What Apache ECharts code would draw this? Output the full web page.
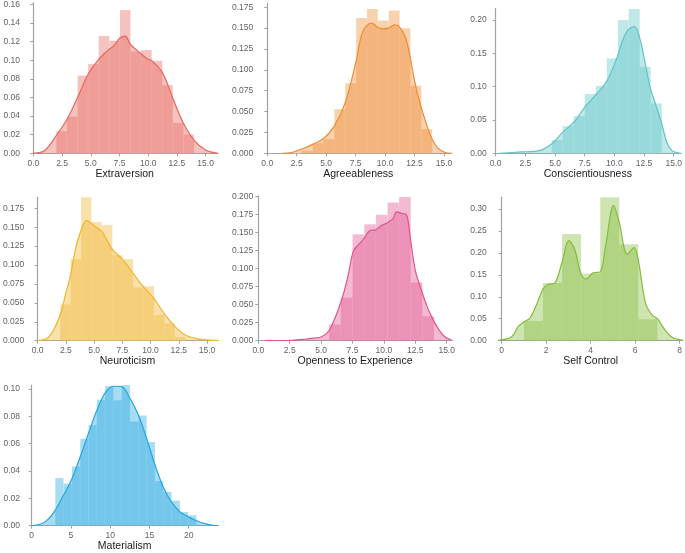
<!DOCTYPE html>
<html>
<head>
<meta charset="utf-8">
<script src="https://cdn.jsdelivr.net/npm/echarts@6/dist/echarts.min.js"></script>
<style>
html,body{margin:0;padding:0;background:#fff;}
#chart{width:685px;height:553px;}
</style>
</head>
<body>
<div id="chart"></div>
<script>
// ---------- DATA ----------
const titles = ["Extraversion","Agreeableness","Conscientiousness","Neuroticism","Openness to Experience","Self Control","Materialism"];

// histogram bin edges and densities
const extraversionEdges = [2,2.92,3.85,4.77,5.69,6.62,7.54,8.46,9.38,10.31,11.23,12.15,13.08,14];
const extraversionHist = [0.0238,0.0395,0.0836,0.096,0.126,0.121,0.154,0.1095,0.111,0.0996,0.0733,0.0327,0.0203];
const extraversionKdeX = [0,1,2.1,3,4,4.77,5.69,6.62,7,7.54,8,8.46,9.38,10,10.31,11.23,12.15,13.08,14,15,16.07];
const extraversionKdeY = [0,0.003,0.021,0.038,0.064,0.085,0.101,0.112,0.1156,0.124,0.126,0.117,0.107,0.101,0.0996,0.087,0.059,0.032,0.014,0.0036,0];

const agreeablenessEdges = [2,2.92,3.85,4.77,5.69,6.62,7.54,8.46,9.38,10.31,11.23,12.15,13.08,14];
const agreeablenessHist = [0,0.003,0.012,0.017,0.053,0.084,0.162,0.173,0.159,0.171,0.150,0.081,0.029];
const agreeablenessKdeX = [1.27,2.07,3.1,3.9,4.8,5.66,6.6,7.53,8.0,8.43,8.86,9.37,9.85,10.27,10.84,11.18,11.69,12.06,12.54,12.96,13.53,13.95,14.5,15.1,15.65];
const agreeablenessKdeY = [0,0.001,0.006,0.011,0.018,0.032,0.060,0.110,0.142,0.153,0.156,0.151,0.149,0.150,0.154,0.152,0.140,0.120,0.084,0.060,0.034,0.018,0.006,0.001,0];

const conscientiousnessEdges = [4.71,5.64,6.57,7.5,8.43,9.36,10.29,11.21,12.14,13.07,14];
const conscientiousnessHist = [0.02,0.041,0.056,0.089,0.1015,0.1425,0.20,0.2165,0.13,0.075];
const conscientiousnessKdeX = [0.3,2.15,3.26,3.95,4.78,5.69,6.63,7.54,8.43,9.34,10.25,10.7,11.19,11.69,12.1,12.57,13.0,13.5,13.95,14.45,14.86,15.6];
const conscientiousnessKdeY = [0,0.002,0.003,0.0055,0.015,0.0325,0.0475,0.070,0.0875,0.1075,0.145,0.17,0.186,0.19,0.175,0.1375,0.1,0.072,0.047,0.015,0.004,0];

const neuroticismEdges = [2,2.92,3.85,4.77,5.69,6.62,7.54,8.46,9.38,10.31,11.23,12.15,13.08];
const neuroticismHist = [0.048,0.108,0.1896,0.157,0.153,0.113,0.108,0.0705,0.072,0.034,0.023,0.005];
const neuroticismKdeX = [0,1,2,2.45,2.92,3.4,3.85,4.33,4.77,5,5.7,6.6,7.54,8.46,9.38,10.3,11.2,12.15,13.08,14,15,16];
const neuroticismKdeY = [0,0.005,0.034,0.060,0.087,0.124,0.146,0.159,0.155,0.152,0.144,0.121,0.107,0.089,0.071,0.056,0.036,0.019,0.0075,0.003,0.001,0];

const opennessEdges = [5.64,6.57,7.5,8.43,9.36,10.29,11.21,12.14,13.07,14];
const opennessHist = [0.0227,0.060,0.148,0.1616,0.175,0.192,0.1996,0.081,0.034];
const opennessKdeX = [0.53,2.65,3.7,4.38,5.04,5.7,6.63,7.16,7.56,7.96,8.43,8.89,9.34,9.81,10.27,10.74,11.0,11.4,11.8,12.07,12.5,12.99,13.45,13.87,14.32,14.85,15.38];
const opennessKdeY = [0,0.0005,0.002,0.0035,0.0055,0.016,0.0565,0.091,0.124,0.133,0.142,0.153,0.154,0.16,0.164,0.17,0.179,0.177,0.175,0.147,0.098,0.070,0.047,0.031,0.017,0.0055,0.001];

const selfControlEdges = [1,1.857,2.714,3.571,4.429,5.286,6.143,7];
const selfControlHist = [0.0448,0.1314,0.243,0.153,0.3266,0.2195,0.049];
const selfControlKdeX = [-0.15,0.45,0.74,1.0,1.26,1.56,1.86,2.08,2.38,2.72,3.02,3.27,3.57,3.79,4.09,4.43,4.68,5.03,5.28,5.65,5.95,6.14,6.47,6.77,7.02,7.29,7.66,8.15];
const selfControlKdeY = [0.001,0.009,0.032,0.043,0.051,0.081,0.118,0.128,0.131,0.18,0.228,0.21,0.151,0.14,0.154,0.157,0.218,0.3076,0.271,0.197,0.212,0.184,0.085,0.058,0.049,0.028,0.0076,0.001];

const materialismEdges = [3,4.06,5.12,6.18,7.24,8.29,9.35,10.41,11.47,12.53,13.59,14.65,15.71,16.76,17.82,18.88,19.94,21];
const materialismHist = [0.0348,0.0307,0.0433,0.0636,0.0736,0.0921,0.1021,0.0917,0.1029,0.0762,0.0805,0.0612,0.0326,0.0248,0.0183,0.010,0.0076];
const materialismKdeX = [0,1.06,1.9,2.97,4.03,5.1,6.16,7.2,8.28,9.34,10.4,11.46,12.53,13.59,14.65,15.7,16.77,17.83,18.9,19.96,21.0,22.1,23.1,23.8];
const materialismKdeY = [0,0.001,0.0036,0.011,0.022,0.034,0.050,0.067,0.084,0.097,0.102,0.1017,0.093,0.081,0.0636,0.0445,0.028,0.017,0.010,0.0064,0.0036,0.0014,0.0002,0];

// tick values
const xTicks15 = [0,2.5,5,7.5,10,12.5,15];
const xTicksSelfControl = [0,2,4,6,8];
const xTicksMaterialism = [0,5,10,15,20];
const yTicksExtraversion = [0,0.02,0.04,0.06,0.08,0.10,0.12,0.14,0.16];
const yTicksAgreeableness = [0,0.025,0.05,0.075,0.1,0.125,0.15,0.175];
const yTicksConscientiousness = [0,0.05,0.10,0.15,0.20];
const yTicksNeuroticism = [0,0.025,0.05,0.075,0.1,0.125,0.15,0.175];
const yTicksOpenness = [0,0.025,0.05,0.075,0.1,0.125,0.15,0.175,0.2];
const yTicksSelfControl = [0,0.05,0.10,0.15,0.20,0.25,0.30];
const yTicksMaterialism = [0,0.02,0.04,0.06,0.08,0.10];

// ---------- LAYOUT / STYLE ----------
const panels = [
  {edges:extraversionEdges, hist:extraversionHist, kx:extraversionKdeX, ky:extraversionKdeY, xt:xTicks15, xd:1, yt:yTicksExtraversion, yd:2,
   color:'#E8675C', xmin:-0.15, xmax:16.07, ymax:0.162, left:31.6, right:217.9, top:1.4, bottom:153.3, off:7.6},
  {edges:agreeablenessEdges, hist:agreeablenessHist, kx:agreeablenessKdeX, ky:agreeablenessKdeY, xt:xTicks15, xd:1, yt:yTicksAgreeableness, yd:3,
   color:'#EE8D33', xmin:-0.2, xmax:15.65, ymax:0.18, left:264.9, right:451.7, top:3.1, bottom:153.3, off:7.6},
  {edges:conscientiousnessEdges, hist:conscientiousnessHist, kx:conscientiousnessKdeX, ky:conscientiousnessKdeY, xt:xTicks15, xd:1, yt:yTicksConscientiousness, yd:2,
   color:'#5EC5C7', xmin:-0.1, xmax:15.63, ymax:0.217, left:494.5, right:684.4, top:8.7, bottom:153.3, off:3.8},
  {edges:neuroticismEdges, hist:neuroticismHist, kx:neuroticismKdeX, ky:neuroticismKdeY, xt:xTicks15, xd:1, yt:yTicksNeuroticism, yd:3,
   color:'#F1B52F', xmin:-0.09, xmax:16.0, ymax:0.1895, left:32.3, right:218.3, top:197.3, bottom:340.7, off:8.3},
  {edges:opennessEdges, hist:opennessHist, kx:opennessKdeX, ky:opennessKdeY, xt:xTicks15, xd:1, yt:yTicksOpenness, yd:3,
   color:'#E2558E', xmin:-0.08, xmax:15.48, ymax:0.201, left:257.3, right:452.7, top:196, bottom:340.7, off:0},
  {edges:selfControlEdges, hist:selfControlHist, kx:selfControlKdeX, ky:selfControlKdeY, xt:xTicksSelfControl, xd:0, yt:yTicksSelfControl, yd:2,
   color:'#84BC3C', xmin:-0.15, xmax:8.15, ymax:0.327, left:498.3, right:684.3, top:197.1, bottom:340.7, off:7.6},
  {edges:materialismEdges, hist:materialismHist, kx:materialismKdeX, ky:materialismKdeY, xt:xTicksMaterialism, xd:0, yt:yTicksMaterialism, yd:2,
   color:'#25A7DF', xmin:-0.09, xmax:23.77, ymax:0.1029, left:31.0, right:218.3, top:385, bottom:529, off:7}
];

function hexToRgba(hex, a){
  const n = parseInt(hex.slice(1),16);
  return 'rgba(' + ((n>>16)&255) + ',' + ((n>>8)&255) + ',' + (n&255) + ',' + a + ')';
}

const FONT = 'Liberation Sans, Arial, Helvetica, sans-serif';
const AXIS_COLOR = '#9ea3a8';
const LABEL_COLOR = '#5f6368';

const grid = [], xAxis = [], yAxis = [], series = [];
panels.forEach((p, i) => {
  grid.push({left:p.left, top:p.top, width:p.right-p.left, height:p.bottom-p.top, containLabel:false});
  xAxis.push({
    type:'value', gridIndex:i, min:p.xmin, max:p.xmax,
    name:titles[i], nameLocation:'middle', nameGap:15,
    nameTextStyle:{fontSize:10.5, color:'#1a1a1a', fontFamily:FONT},
    axisLine:{show:true, lineStyle:{color:AXIS_COLOR, width:1.2}},
    axisTick:{show:true, length:3, customValues:p.xt, lineStyle:{color:AXIS_COLOR, width:1}},
    axisLabel:{customValues:p.xt, fontSize:8.5, color:LABEL_COLOR, fontFamily:FONT, margin:5.5,
               formatter:(v)=>Number(v).toFixed(p.xd)},
    splitLine:{show:false}
  });
  yAxis.push({
    type:'value', gridIndex:i, min:0, max:p.ymax, offset:p.off,
    axisLine:{show:true, lineStyle:{color:AXIS_COLOR, width:1.2}},
    axisTick:{show:true, length:3, customValues:p.yt, lineStyle:{color:AXIS_COLOR, width:1}},
    axisLabel:{customValues:p.yt, fontSize:8.5, color:LABEL_COLOR, fontFamily:FONT, margin:4,
               formatter:(v)=>Number(v).toFixed(p.yd)},
    splitLine:{show:false}
  });
  const binData = p.hist.map((h, j) => [p.edges[j], p.edges[j+1], h]);
  const fill = hexToRgba(p.color, 0.4);
  series.push({
    type:'custom', xAxisIndex:i, yAxisIndex:i, silent:true,
    data:binData, encode:{x:[0,1], y:2},
    renderItem:function(params, api){
      const a = api.coord([api.value(0), api.value(2)]);
      const b = api.coord([api.value(1), 0]);
      return {type:'rect', shape:{x:a[0], y:a[1], width:b[0]-a[0], height:b[1]-a[1]},
              style:{fill:fill, stroke:'rgba(255,255,255,0.25)', lineWidth:0.6}};
    }
  });
  series.push({
    type:'line', xAxisIndex:i, yAxisIndex:i, silent:true,
    data:p.kx.map((x, j) => [x, p.ky[j]]),
    smooth:0.35, symbol:'none',
    lineStyle:{color:p.color, width:1.2},
    areaStyle:{color:p.color, opacity:0.4}
  });
});

const chart = echarts.init(document.getElementById('chart'), null, {renderer:'canvas'});
chart.setOption({animation:false, backgroundColor:'#fff', grid, xAxis, yAxis, series});
</script>
</body>
</html>
